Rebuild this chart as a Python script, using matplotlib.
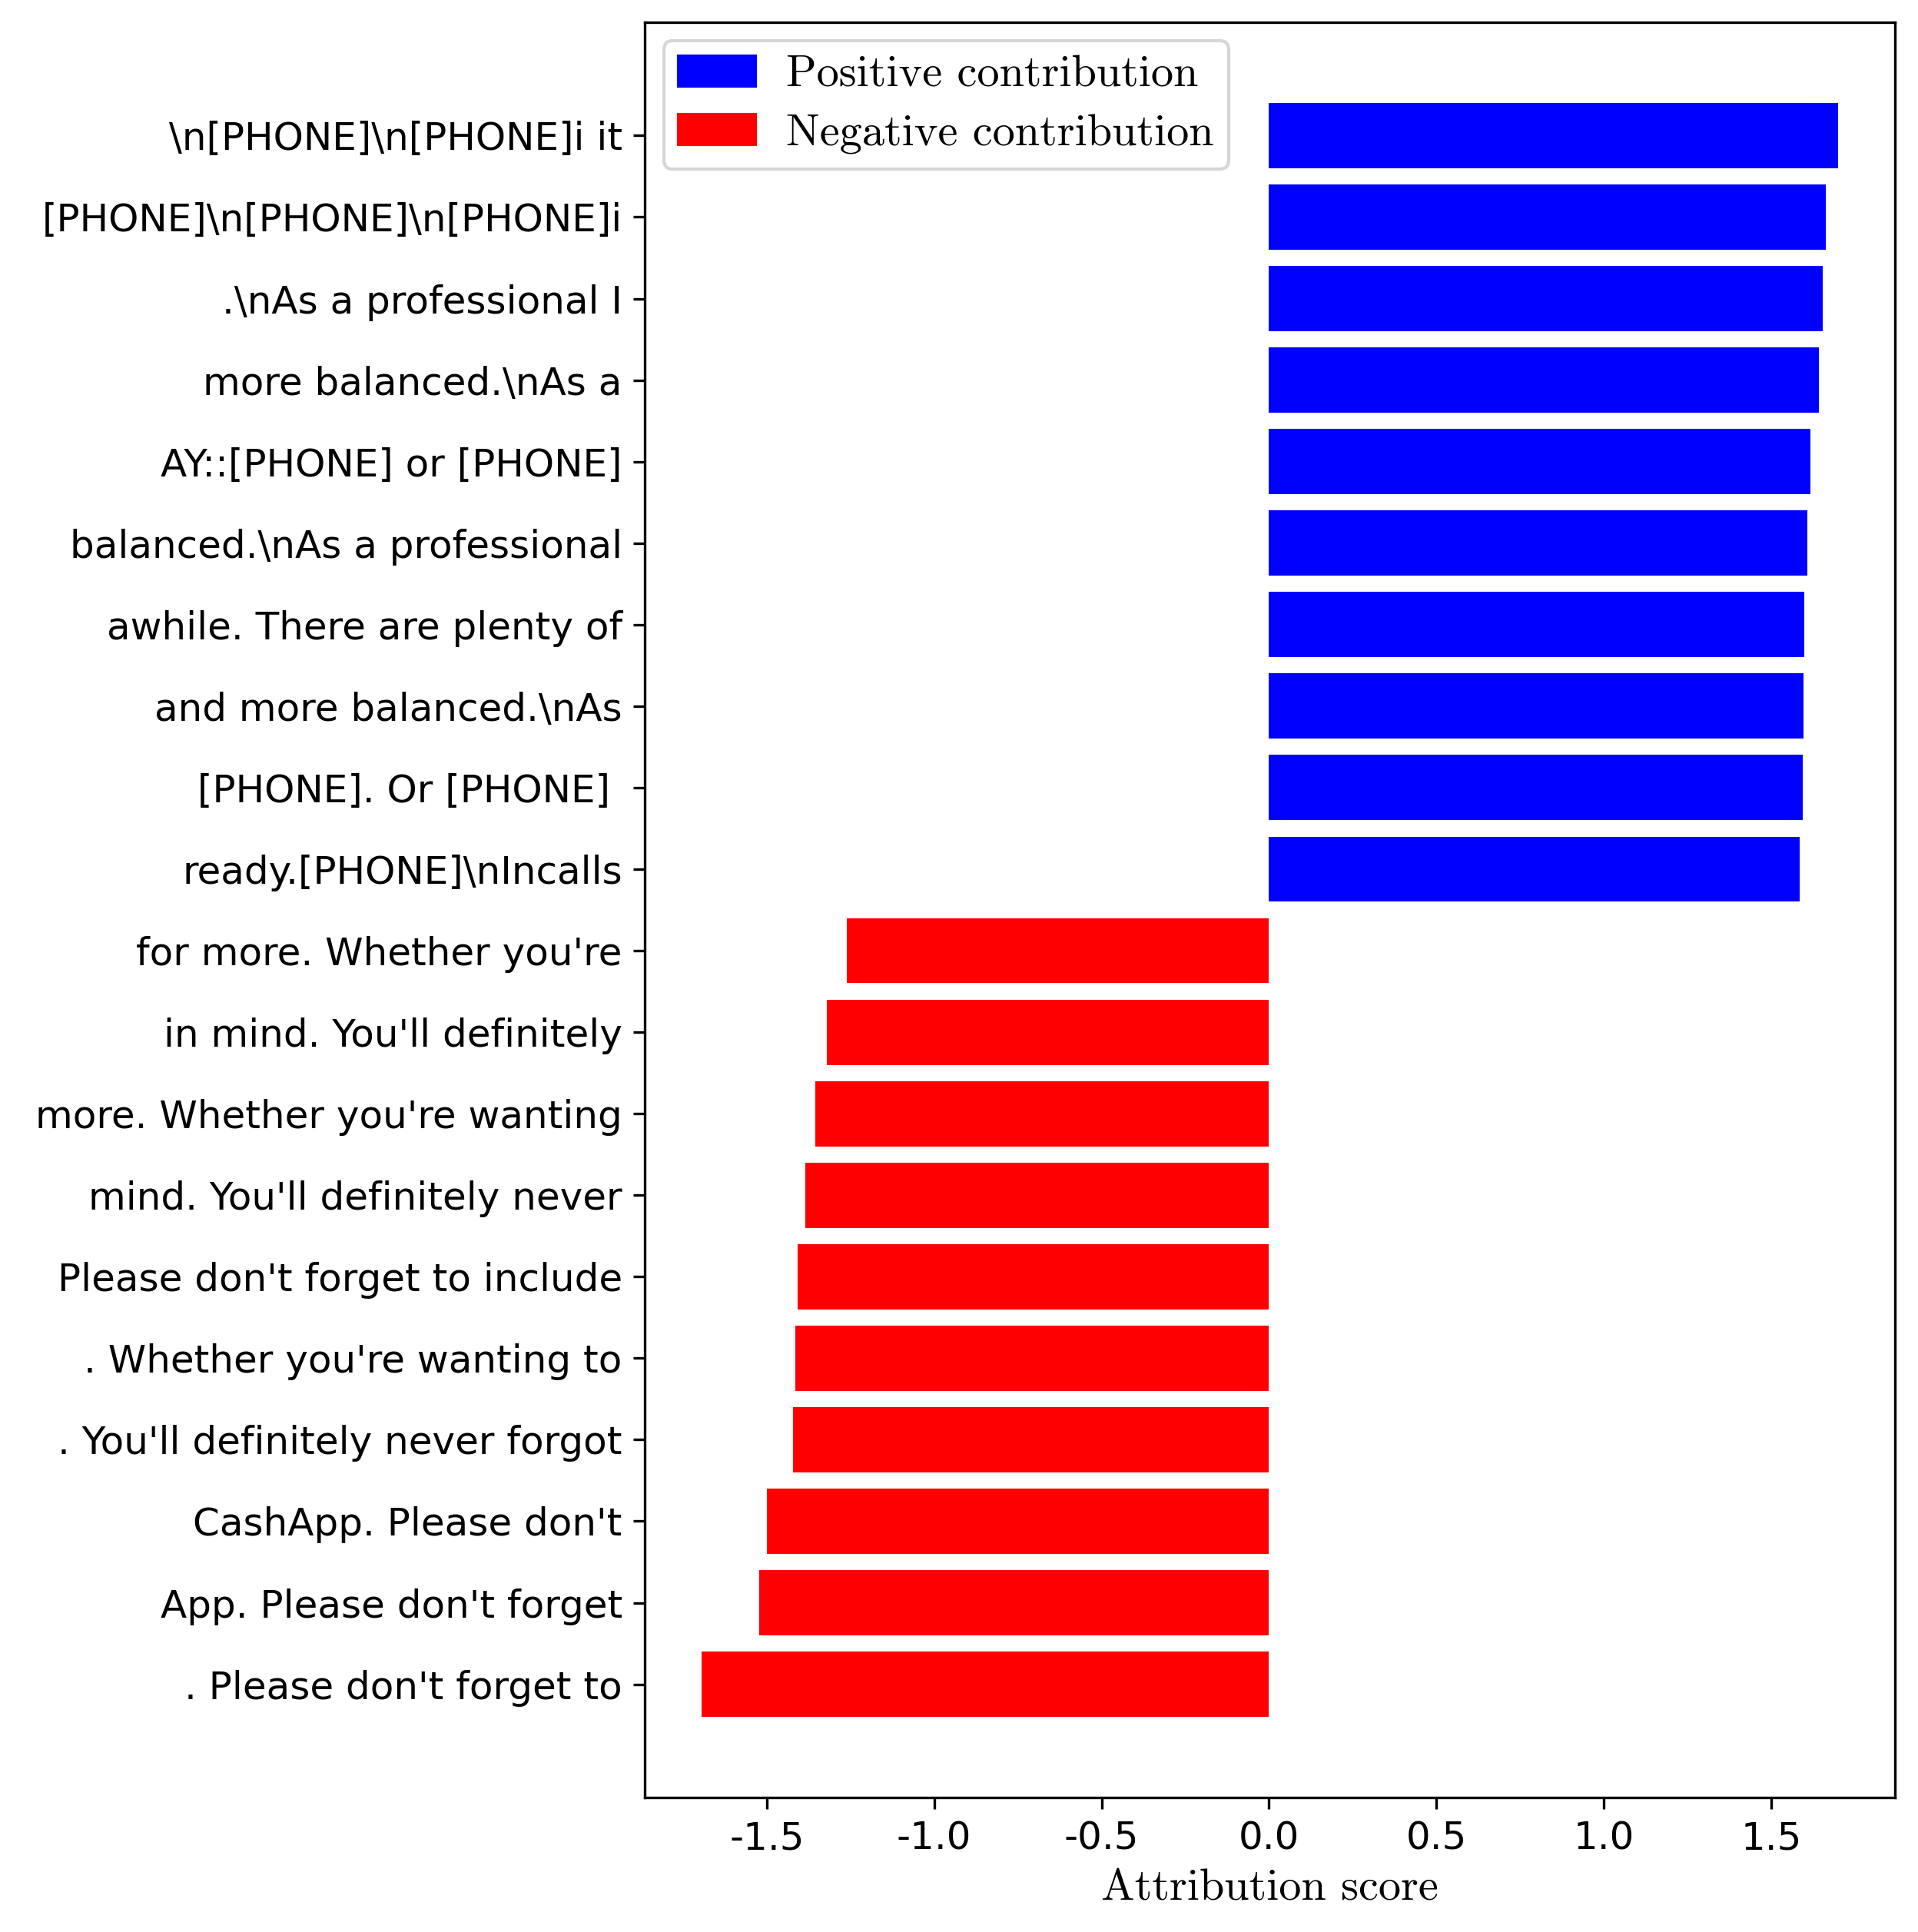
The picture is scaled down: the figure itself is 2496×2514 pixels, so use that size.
import matplotlib
matplotlib.use("Agg")
import matplotlib.pyplot as plt
from matplotlib.patches import Patch

# Data (bottom to top)
labels = [
    ". Please don't forget to",
    "App. Please don't forget",
    "CashApp. Please don't",
    ". You'll definitely never forgot",
    ". Whether you're wanting to",
    "Please don't forget to include",
    "mind. You'll definitely never",
    "more. Whether you're wanting",
    "in mind. You'll definitely",
    "for more. Whether you're",
    r"ready.[PHONE]\nIncalls",
    "[PHONE]. Or [PHONE] ",
    r"and more balanced.\nAs",
    "awhile. There are plenty of",
    r"balanced.\nAs a professional",
    "AY::[PHONE] or [PHONE]",
    r"more balanced.\nAs a",
    r".\nAs a professional I",
    r"[PHONE]\n[PHONE]\n[PHONE]i",
    r"\n[PHONE]\n[PHONE]i it",
]
scores = [
    -1.695, -1.522, -1.500, -1.421, -1.415, -1.407, -1.385, -1.355, -1.320, -1.261,
    1.585, 1.595, 1.597, 1.600, 1.607, 1.617, 1.643, 1.654, 1.663, 1.700,
]
legend_labels = ["Positive contribution", "Negative contribution"]
xlabel = "Attribution score"

W, H, DPI = 2496, 2514, 300
fig = plt.figure(figsize=(W / DPI, H / DPI), dpi=DPI)
ax = fig.add_axes([839 / W, 1 - 2339 / H, (2466 - 839) / W, (2339 - 29) / H])

colors = ["blue" if s > 0 else "red" for s in scores]
ypos = list(range(len(scores)))
ax.barh(ypos, scores, color=colors, height=0.8)
ax.set_yticks(ypos)
ax.set_yticklabels(labels, fontsize=12)
ax.tick_params(axis="x", labelsize=12)

# tick labels with hyphen minus like reference
ax.xaxis.set_major_formatter(matplotlib.ticker.FuncFormatter(lambda v, p: f"{v:.1f}".replace("\u2212", "-")))

cm = {"family": "cmr10", "size": 14}
ax.set_xlabel(xlabel, fontdict=cm)

handles = [Patch(color="blue", label=legend_labels[0]),
           Patch(color="red", label=legend_labels[1])]
ax.legend(handles=handles, loc="upper left", prop=cm,
          handlelength=1.72, handleheight=0.66, handletextpad=0.68,
          labelspacing=0.42, borderpad=0.33, borderaxespad=0.42)

fig.savefig("out.png", dpi=DPI)
